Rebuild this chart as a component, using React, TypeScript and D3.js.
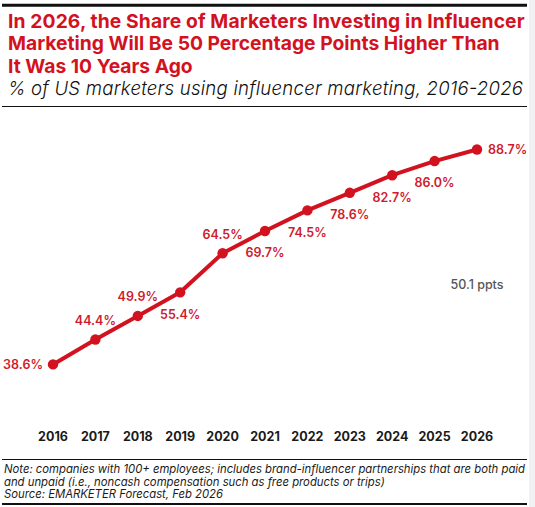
import * as d3 from "d3";

const years = ["2016", "2017", "2018", "2019", "2020", "2021", "2022", "2023", "2024", "2025", "2026"];
const shares = [38.6, 44.4, 49.9, 55.4, 64.5, 69.7, 74.5, 78.6, 82.7, 86.0, 88.7];
// where each value label sits relative to its dot
const labelSide = ["left", "above", "above", "below", "above", "below", "below", "below", "below", "below", "right"];

const titleLines = [
  "In 2026, the Share of Marketers Investing in Influencer",
  "Marketing Will Be 50 Percentage Points Higher Than",
  "It Was 10 Years Ago",
];
const subtitle = "% of US marketers using influencer marketing, 2016-2026";
const noteLines = [
  "Note: companies with 100+ employees; includes brand-influencer partnerships that are both paid",
  "and unpaid (i.e., noncash compensation such as free products or trips)",
  "Source: EMARKETER Forecast, Feb 2026",
];
const changeLabel = "50.1 ppts";

const width = 535;
const height = 507;
const red = "#d3121f";
const labelRed = "#cf1b2b";
const font = "Inter, 'Noto Sans', sans-serif";

export default function App() {
  const x = d3.scalePoint<string>().domain(years).range([53, 477]);
  const y = d3.scaleLinear().domain([0, 100]).range([530, 101]);

  const pts = years.map((yr, i) => ({ yr, v: shares[i], side: labelSide[i] }));
  const line = d3
    .line<{ yr: string; v: number }>()
    .x((d) => x(d.yr)!)
    .y((d) => y(d.v));

  const last = pts[pts.length - 1];

  return (
    <div style={{ position: "fixed", left: 0, top: 0 }}>
      <svg width={width} height={height} style={{ display: "block", fontFamily: font }}>
        <rect width={width} height={height} fill="#fff" />
        <rect x={529} width={width - 529} height={height} fill="#f1f1f3" />

        <line x1={2} x2={527} y1={5.3} y2={5.3} stroke="#111" strokeWidth={3} />
        {titleLines.map((t, i) => (
          <text
            key={t}
            x={8}
            y={28 + i * 22.4}
            fontSize={19.3}
            fontWeight={700}
            fill={red}
            letterSpacing={i === 0 ? 0.1 : 0}
          >
            {t}
          </text>
        ))}
        <text x={8} y={95} fontSize={18.6} fontStyle="italic" fontWeight={300} fill="#111" textLength={515}>
          {subtitle}
        </text>
        <line x1={2} x2={527} y1={106.5} y2={106.5} stroke="#111" strokeWidth={1} />

        <path d={line(pts) ?? ""} fill="none" stroke={red} strokeWidth={4} strokeLinejoin="round" />
        {pts.map((d) => (
          <circle key={d.yr} cx={x(d.yr)} cy={y(d.v)} r={5.2} fill={red} />
        ))}
        {pts.map((d) => {
          const cx = x(d.yr)!;
          const cy = y(d.v);
          let tx = cx;
          let ty = cy;
          let anchor: "start" | "middle" | "end" = "middle";
          if (d.side === "left") {
            tx = cx - 10;
            anchor = "end";
          } else if (d.side === "right") {
            tx = cx + 11;
            anchor = "start";
          } else if (d.side === "above") {
            ty = cy - 19;
          } else {
            ty = cy + 22;
          }
          return (
            <text
              key={d.yr}
              x={tx}
              y={ty}
              dy="0.35em"
              textAnchor={anchor}
              fontSize={12.5}
              fontWeight={600}
              fill={labelRed}
            >
              {d.v.toFixed(1)}%
            </text>
          );
        })}
        <text
          x={x(last.yr)}
          y={285}
          dy="0.35em"
          textAnchor="middle"
          fontSize={12.5}
          fontWeight={500}
          fill="#555"
        >
          {changeLabel}
        </text>

        {years.map((yr) => (
          <text key={yr} x={x(yr)} y={441} textAnchor="middle" fontSize={12.5} fontWeight={700} fill="#1a1a1a">
            {yr}
          </text>
        ))}
        <line x1={2} x2={527} y1={459.5} y2={459.5} stroke="#111" strokeWidth={1} />
        {noteLines.map((t, i) => (
          <text key={t} x={4} y={473 + i * 12.6} fontSize={11.3} fontStyle="italic" fill="#1a1a1a">
            {t}
          </text>
        ))}
        <line x1={2} x2={527} y1={504} y2={504} stroke="#111" strokeWidth={2} />
      </svg>
    </div>
  );
}
